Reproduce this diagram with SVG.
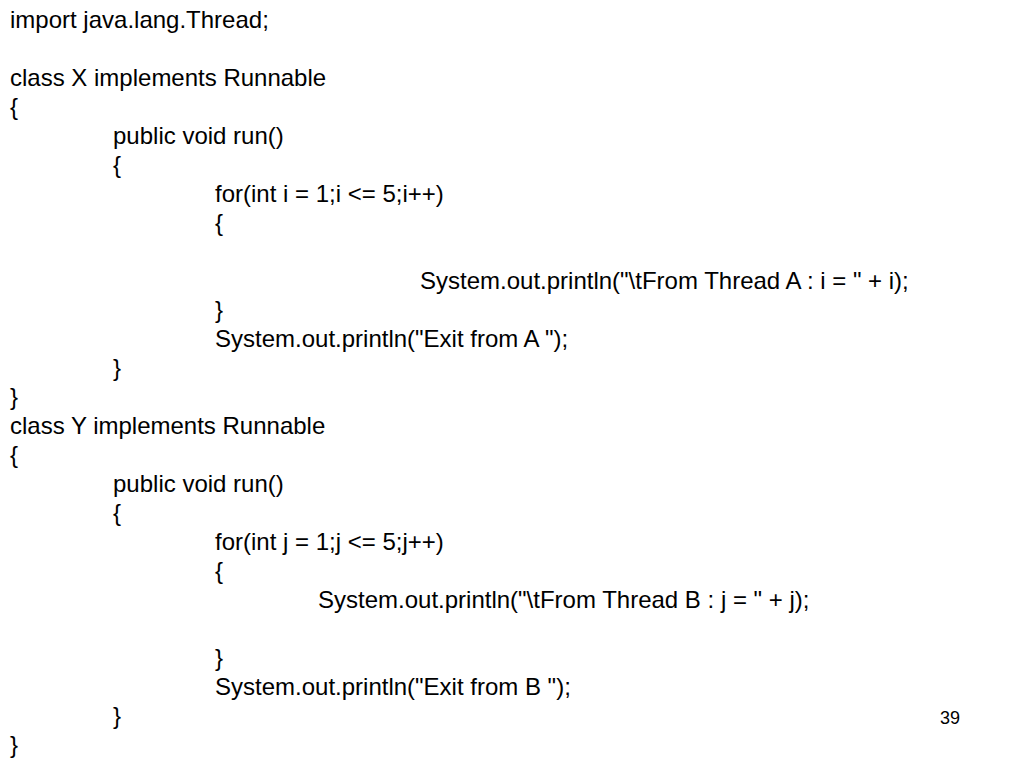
<svg xmlns="http://www.w3.org/2000/svg" width="1024" height="768" viewBox="0 0 1024 768">
<style>text{font-family:"Liberation Sans",Arial,sans-serif;font-size:24px;fill:#000}</style>
<rect width="1024" height="768" fill="#fff"/>
<g id="code">
<text x="10" y="28">import java.lang.Thread;</text>
<text x="10" y="86">class X implements Runnable</text>
<text x="10" y="115">{</text>
<text x="113" y="144">public void run()</text>
<text x="113" y="173">{</text>
<text x="215" y="202">for(int i = 1;i &lt;= 5;i++)</text>
<text x="215" y="231">{</text>
<text x="420" y="289">System.out.println("\tFrom Thread A : i = " + i);</text>
<text x="215" y="318">}</text>
<text x="215" y="347">System.out.println("Exit from A ");</text>
<text x="113" y="376">}</text>
<text x="10" y="405">}</text>
<text x="10" y="434">class Y implements Runnable</text>
<text x="10" y="463">{</text>
<text x="113" y="492">public void run()</text>
<text x="113" y="521">{</text>
<text x="215" y="550">for(int j = 1;j &lt;= 5;j++)</text>
<text x="215" y="579">{</text>
<text x="318" y="608">System.out.println("\tFrom Thread B : j = " + j);</text>
<text x="215" y="666">}</text>
<text x="215" y="695">System.out.println("Exit from B ");</text>
<text x="113" y="724">}</text>
<text x="10" y="753">}</text>
<text x="940" y="724" style="font-size:18px">39</text>
</g>
</svg>
